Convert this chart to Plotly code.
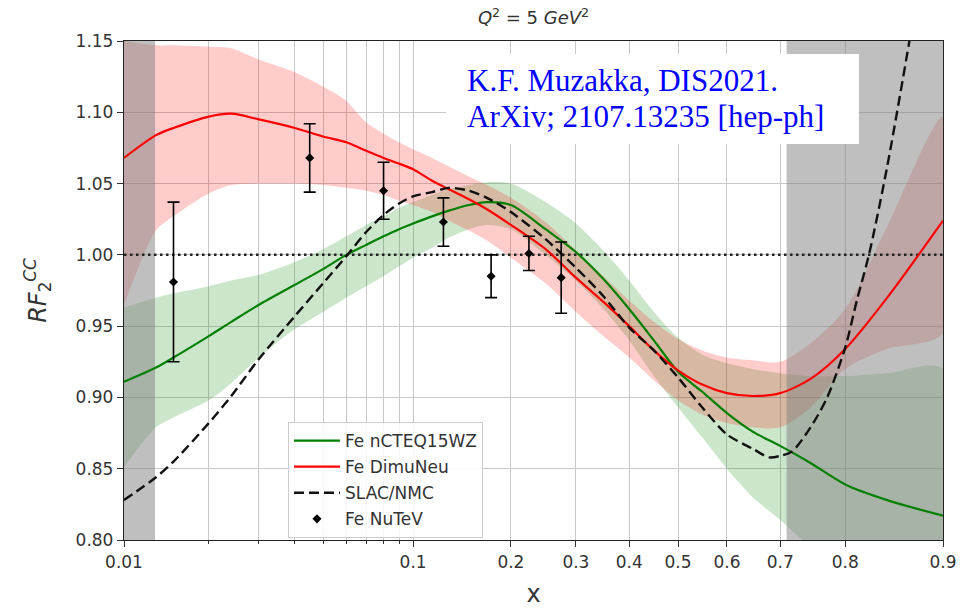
import numpy as np
import plotly.graph_objects as go

# ---------------- data ----------------
x_grid = [0.01, 0.013, 0.015, 0.02, 0.024, 0.03, 0.04, 0.05, 0.06, 0.07, 0.08, 0.09,
          0.1, 0.115, 0.13, 0.15, 0.17, 0.2, 0.25, 0.3, 0.35, 0.4, 0.45, 0.5,
          0.55, 0.6, 0.65, 0.7, 0.75, 0.8, 0.85, 0.9]

green_mid = [0.911, 0.921, 0.928, 0.943, 0.953, 0.965, 0.979, 0.990, 1.000, 1.007, 1.013, 1.018,
             1.022, 1.027, 1.031, 1.035, 1.037, 1.035, 1.018, 1.002, 0.983, 0.962, 0.940, 0.918,
             0.904, 0.889, 0.876, 0.866, 0.854, 0.839, 0.828, 0.817]
green_hi = [0.963, 0.970, 0.973, 0.978, 0.982, 0.986, 0.995, 1.004, 1.013, 1.021, 1.027, 1.033,
            1.037, 1.042, 1.046, 1.049, 1.051, 1.050, 1.037, 1.022, 1.003, 0.982, 0.960, 0.942,
            0.930, 0.924, 0.920, 0.917, 0.915, 0.915, 0.917, 0.920]
green_lo = [0.851, 0.879, 0.886, 0.898, 0.910, 0.928, 0.948, 0.960, 0.970, 0.978, 0.985, 0.992,
            0.998, 1.005, 1.012, 1.018, 1.021, 1.018, 1.000, 0.982, 0.962, 0.940, 0.915, 0.893,
            0.872, 0.850, 0.830, 0.814, 0.795, 0.775, 0.760, 0.750]

red_mid = [1.068, 1.084, 1.089, 1.097, 1.099, 1.095, 1.089, 1.083, 1.079, 1.073, 1.068, 1.064,
           1.060, 1.052, 1.046, 1.039, 1.032, 1.021, 1.004, 0.984, 0.967, 0.950, 0.933, 0.919,
           0.909, 0.903, 0.901, 0.903, 0.913, 0.934, 0.970, 1.024]
red_hi = [1.150, 1.147, 1.147, 1.146, 1.145, 1.137, 1.128, 1.118, 1.108, 1.093, 1.085, 1.079,
          1.074, 1.068, 1.062, 1.055, 1.049, 1.040, 1.023, 1.003, 0.985, 0.968, 0.953, 0.941,
          0.933, 0.928, 0.926, 0.925, 0.938, 0.962, 1.020, 1.097]
red_lo = [0.965, 1.017, 1.027, 1.043, 1.049, 1.050, 1.050, 1.049, 1.047, 1.045, 1.042, 1.038,
          1.035, 1.030, 1.024, 1.017, 1.010, 0.998, 0.980, 0.960, 0.943, 0.928, 0.912, 0.898,
          0.888, 0.882, 0.879, 0.879, 0.893, 0.920, 0.934, 0.945]

slac_x = [0.01, 0.013, 0.015, 0.02, 0.024, 0.03, 0.04, 0.05, 0.06, 0.07, 0.08, 0.09, 0.1,
          0.115, 0.13, 0.15, 0.17, 0.2, 0.25, 0.3, 0.35, 0.4, 0.45, 0.5, 0.55, 0.6, 0.65,
          0.68, 0.7, 0.72, 0.75, 0.775, 0.8, 0.815, 0.83, 0.85, 0.872]
slac_y = [0.828, 0.844, 0.855, 0.882, 0.901, 0.927, 0.957, 0.980, 0.999, 1.016, 1.028, 1.036, 1.041,
          1.044, 1.047, 1.045, 1.040, 1.030, 1.011, 0.991, 0.971, 0.949, 0.933, 0.914, 0.893, 0.874, 0.864,
          0.858, 0.859, 0.862, 0.879, 0.900, 0.935, 0.968, 1.001, 1.062, 1.150]

nutev_x = [0.015, 0.045, 0.08, 0.125, 0.175, 0.225, 0.275]
nutev_y = [0.981, 1.068, 1.045, 1.023, 0.985, 1.001, 0.984]
nutev_err = [0.056, 0.024, 0.020, 0.017, 0.015, 0.012, 0.025]

shade_low = [0.01, 0.0129]
shade_high = [0.711, 0.9]

x_range = [0.01, 0.9]
y_range = [0.80, 1.15]
unity = 1.0

x_major = [0.01, 0.1, 0.2, 0.3, 0.4, 0.5, 0.6, 0.7, 0.8, 0.9]
x_major_labels = ["0.01", "0.1", "0.2", "0.3", "0.4", "0.5", "0.6", "0.7", "0.8", "0.9"]
x_minor = [0.02, 0.03, 0.04, 0.05, 0.06, 0.07, 0.08, 0.09]
y_ticks = [0.80, 0.85, 0.90, 0.95, 1.00, 1.05, 1.10, 1.15]


# logit scale (as matplotlib 'logit')
def logit(v):
    v = np.asarray(v, dtype=float)
    return np.log(v / (1 - v))


FONT = "DejaVu Sans"
SMOOTH = 0.8
fig = go.Figure()

gx = logit(x_grid)


def band(lo, hi, color):
    fig.add_trace(go.Scatter(x=np.concatenate([gx, gx[::-1]]),
                             y=np.concatenate([np.array(hi), np.array(lo)[::-1]]),
                             fill="toself", fillcolor=color,
                             line=dict(width=0, shape="spline", smoothing=SMOOTH),
                             mode="lines", showlegend=False, hoverinfo="skip"))


band(green_lo, green_hi, "rgba(0,128,0,0.2)")
band(red_lo, red_hi, "rgba(255,0,0,0.2)")

# shaded excluded regions
for a, b in (shade_low, shade_high):
    xs = logit([a, b, b, a, a])
    ys = [y_range[0], y_range[0], y_range[1], y_range[1], y_range[0]]
    fig.add_trace(go.Scatter(x=xs, y=ys, fill="toself", fillcolor="rgba(128,128,128,0.5)",
                             line=dict(width=0), mode="lines", showlegend=False, hoverinfo="skip"))

# unity reference line
fig.add_trace(go.Scatter(x=logit(x_range), y=[unity, unity], mode="lines",
                         line=dict(color="#222222", width=2.5, dash="2.5px,3.5px"),
                         showlegend=False, hoverinfo="skip"))

fig.add_trace(go.Scatter(x=gx, y=green_mid, mode="lines", name="Fe nCTEQ15WZ",
                         line=dict(color="#008000", width=2.2, shape="spline", smoothing=SMOOTH),
                         legendgroup="a"))
fig.add_trace(go.Scatter(x=gx, y=red_mid, mode="lines", name="Fe DimuNeu",
                         line=dict(color="#ff0000", width=2.2, shape="spline", smoothing=SMOOTH),
                         legendgroup="b"))
fig.add_trace(go.Scatter(x=logit(slac_x), y=slac_y, mode="lines", name="SLAC/NMC",
                         line=dict(color="#111111", width=2.4, dash="10px,5px",
                                   shape="spline", smoothing=SMOOTH),
                         legendgroup="c"))
fig.add_trace(go.Scatter(x=logit(nutev_x), y=nutev_y, mode="markers", name="Fe NuTeV",
                         marker=dict(symbol="diamond", color="black", size=7),
                         error_y=dict(type="data", array=nutev_err, visible=True,
                                      color="black", thickness=1.6, width=6),
                         legendgroup="d"))

# white annotation box
L, R, T, B = 124, 943, 41, 540
def px_x(p):
    return (p - L) / (R - L)
def px_y(p):
    return (B - p) / (B - T)

fig.add_shape(type="rect", xref="paper", yref="paper",
              x0=px_x(446), x1=px_x(859), y0=px_y(144), y1=px_y(54),
              fillcolor="white", line=dict(width=0), layer="above")
fig.add_annotation(xref="paper", yref="paper", x=px_x(465), y=px_y(80.5),
                   xanchor="left", yanchor="middle", showarrow=False,
                   text="K.F. Muzakka, DIS2021.",
                   font=dict(family="Liberation Serif", size=31, color="#0000ff"))
fig.add_annotation(xref="paper", yref="paper", x=px_x(465), y=px_y(116),
                   xanchor="left", yanchor="middle", showarrow=False,
                   text="ArXiv; 2107.13235 [hep-ph]",
                   font=dict(family="Liberation Serif", size=31, color="#0000ff"))

fig.update_layout(
    width=964, height=608,
    margin=dict(l=L, r=964 - R, t=T, b=608 - B, autoexpand=False),
    paper_bgcolor="white", plot_bgcolor="white",
    title=dict(text="<i>Q</i><sup>2</sup> = 5 <i>GeV</i><sup>2</sup>",
               x=0.5, xref="paper", xanchor="center", y=1 - 18 / 608, yanchor="middle",
               font=dict(family=FONT, size=18, color="#333333")),
    font=dict(family=FONT, size=17, color="#333333"),
    legend=dict(x=px_x(288), y=px_y(422), xanchor="left", yanchor="top",
                bgcolor="rgba(255,255,255,0.85)", bordercolor="#cccccc", borderwidth=1,
                font=dict(family=FONT, size=17, color="#333333"),
                traceorder="grouped", tracegroupgap=1, itemwidth=46),
    showlegend=True,
)

fig.update_xaxes(
    automargin=False,
    range=list(logit(x_range)), tickmode="array",
    tickvals=list(logit(x_major)), ticktext=x_major_labels,
    ticks="outside", ticklen=6, tickcolor="#333333",
    showgrid=True, gridcolor="#c8c8c8", gridwidth=1.3,
    showline=True, linecolor="#222222", linewidth=1.3, mirror=True,
    minor=dict(tickmode="array", tickvals=list(logit(x_minor)), ticks="outside",
               ticklen=3, tickcolor="#333333", showgrid=True, gridcolor="#c8c8c8", gridwidth=1.3),
    zeroline=False,
    title=dict(text="x", font=dict(family=FONT, size=24, color="#333333"), standoff=14),
)
fig.update_yaxes(
    automargin=False,
    range=y_range, tickmode="array", tickvals=y_ticks,
    ticktext=[f"{v:.2f}" for v in y_ticks],
    ticks="outside", ticklen=6, tickcolor="#333333",
    showgrid=True, gridcolor="#c8c8c8", gridwidth=1.3,
    showline=True, linecolor="#222222", linewidth=1.3, mirror=True,
    zeroline=False,
    title=dict(text="<i>RF</i><sub>2</sub><sup><i>CC</i></sup>",
               font=dict(family=FONT, size=24, color="#333333"), standoff=22),
)

fig.write_html("out.html")
